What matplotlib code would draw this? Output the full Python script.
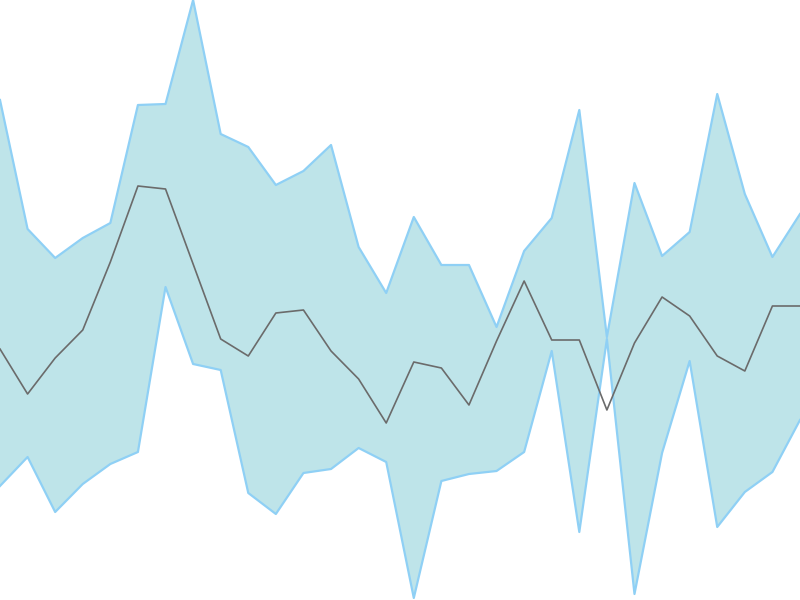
import matplotlib
matplotlib.use("Agg")
import matplotlib.pyplot as plt
import numpy as np

x = list(range(30))
upper = [100, 229, 258, 238, 223, 105, 104, 0, 134, 147, 185, 171, 145, 247, 293,
         217, 265, 265, 327, 251, 218, 110, 337, 183, 256, 232, 94, 194, 257, 214]
lower = [486, 457, 512, 484, 464, 452, 287, 364, 370, 493, 514, 473, 469, 448, 462,
         598, 481, 474, 471, 452, 351, 532, 339, 594, 453, 361, 527, 492, 472, 420]
middle = [349, 394, 358, 330, 262, 186, 189, 264, 339, 356, 313, 310, 351, 379, 423,
          362, 368, 405, 341, 281, 340, 340, 410, 343, 297, 316, 356, 371, 306, 306]

H = 600
up = [H - v for v in upper]
lo = [H - v for v in lower]
mid = [H - v for v in middle]

fig = plt.figure(figsize=(8, 6), dpi=100)
ax = fig.add_axes([0, 0, 1, 1])
ax.fill_between(x, lo, up, color="#bee4e9", linewidth=0)
ax.plot(x, up, color="#8fd0f5", linewidth=1.6)
ax.plot(x, lo, color="#8fd0f5", linewidth=1.6)
ax.plot(x, mid, color="#6b6b6b", linewidth=1.2)
ax.set_xlim(0, 29)
ax.set_ylim(0, H)
ax.axis("off")
fig.savefig("out.png", dpi=100)
